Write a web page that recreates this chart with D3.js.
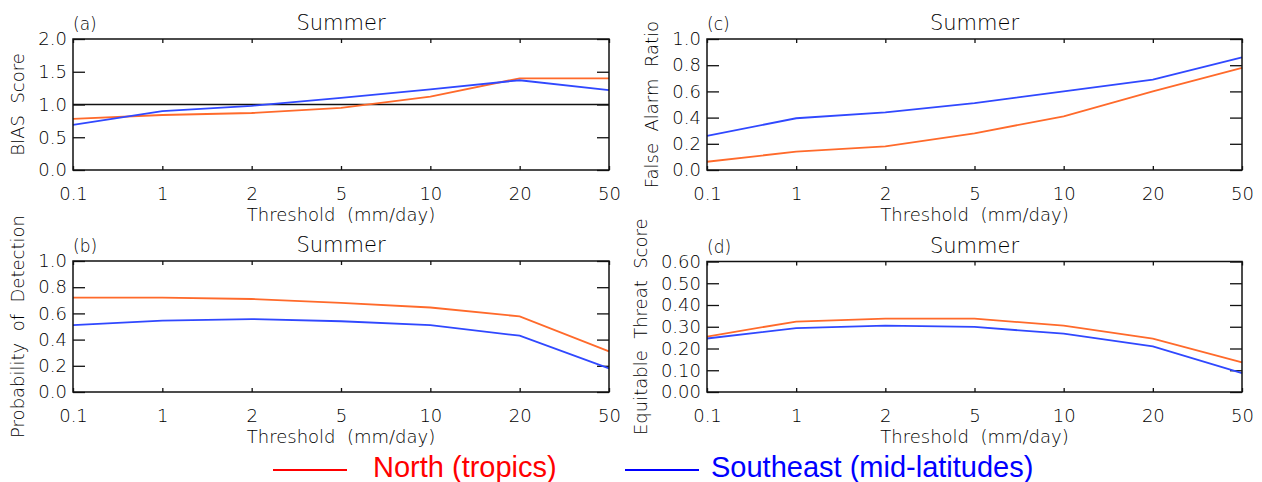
<!DOCTYPE html>
<html lang="en">
<head>
<meta charset="UTF-8">
<title>Summer scores</title>
<script src="https://d3js.org/d3.v7.min.js"></script>
<style>
  body { margin: 0; background: #fff; }
  text { font-family: "DejaVu Sans", sans-serif; font-weight: 200; fill: #000; white-space: pre; }
  .legend text { font-family: "Liberation Sans", Arial, sans-serif; font-weight: 400; }
</style>
</head>
<body>
<svg id="chart" width="1262" height="482"></svg>
<script>

// thresholds (mm/day), shown evenly spaced
const thresholds = ['0.1', '1', '2', '5', '10', '20', '50'];

// (a) BIAS score
const biasNorth     = [0.78, 0.84, 0.87, 0.95, 1.12, 1.40, 1.40];
const biasSoutheast = [0.69, 0.90, 0.98, 1.10, 1.23, 1.37, 1.22];
// (b) probability of detection
const podNorth      = [0.72, 0.72, 0.71, 0.68, 0.645, 0.577, 0.31];
const podSoutheast  = [0.51, 0.545, 0.557, 0.54, 0.51, 0.43, 0.18];
// (c) false alarm ratio
const farNorth      = [0.063, 0.14, 0.18, 0.28, 0.41, 0.60, 0.78];
const farSoutheast  = [0.26, 0.395, 0.44, 0.51, 0.60, 0.69, 0.86];
// (d) equitable threat score
const etsNorth      = [0.255, 0.324, 0.337, 0.337, 0.305, 0.245, 0.136];
const etsSoutheast  = [0.246, 0.294, 0.305, 0.299, 0.268, 0.21, 0.087];

const biasTicks = [0, 0.5, 1.0, 1.5, 2.0];
const unitTicks = [0, 0.2, 0.4, 0.6, 0.8, 1.0];
const etsTicks  = [0, 0.1, 0.2, 0.3, 0.4, 0.5, 0.6];

const northColor = '#ff6a2b';
const southColor = '#3048ff';

const panels = [
  { tag: '(a)', yTitle: 'BIAS  Score', north: biasNorth, south: biasSoutheast,
    ymax: 2, ticks: biasTicks, fmt: '.1f', ref: 1.0,
    left: 73, right: 609, top: 39, bottom: 170, titleOff: 55 },
  { tag: '(b)', yTitle: 'Probability  of  Detection', north: podNorth, south: podSoutheast,
    ymax: 1, ticks: unitTicks, fmt: '.1f',
    left: 73, right: 609, top: 261, bottom: 392, titleOff: 55 },
  { tag: '(c)', yTitle: 'False  Alarm  Ratio', north: farNorth, south: farSoutheast,
    ymax: 1, ticks: unitTicks, fmt: '.1f',
    left: 707, right: 1242, top: 39, bottom: 170, titleOff: 55 },
  { tag: '(d)', yTitle: 'Equitable  Threat  Score', north: etsNorth, south: etsSoutheast,
    ymax: 0.6, ticks: etsTicks, fmt: '.2f',
    left: 707, right: 1242, top: 261.5, bottom: 392, titleOff: 66 }
];

const svg = d3.select('#chart');

panels.forEach(p => {
  const w = p.right - p.left, h = p.bottom - p.top;
  const x = d3.scalePoint().domain(thresholds).range([0, w]);
  const y = d3.scaleLinear().domain([0, p.ymax]).range([h, 0]);
  const g = svg.append('g').attr('transform', `translate(${p.left},${p.top})`);

  g.append('g').attr('transform', `translate(0,${h})`)
    .call(d3.axisBottom(x).tickSize(-4).tickPadding(17))
    .call(a => a.select('.domain').remove())
    .call(a => a.selectAll('text').style('font-size', '18px').attr('fill', '#000'));
  g.append('g')
    .call(d3.axisTop(x).tickSize(-4).tickFormat(''))
    .call(a => a.select('.domain').remove());
  g.append('g')
    .call(d3.axisLeft(y).tickValues(p.ticks).tickSize(-12).tickPadding(6).tickFormat(d3.format(p.fmt)))
    .call(a => a.select('.domain').remove())
    .call(a => a.selectAll('text').style('font-size', '18px').attr('fill', '#000'));
  g.append('g').attr('transform', `translate(${w},0)`)
    .call(d3.axisRight(y).tickValues(p.ticks).tickSize(-12).tickFormat(''))
    .call(a => a.select('.domain').remove());
  g.selectAll('.tick line').attr('stroke', '#111').attr('stroke-width', 1.3);

  if (p.ref !== undefined) {
    g.append('line').attr('x1', 0).attr('x2', w)
      .attr('y1', y(p.ref)).attr('y2', y(p.ref))
      .attr('stroke', '#111').attr('stroke-width', 1.3);
  }

  const line = d3.line().x((d, i) => x(thresholds[i])).y(d => y(d));
  g.append('path').datum(p.north).attr('d', line)
    .attr('fill', 'none').attr('stroke', northColor).attr('stroke-width', 1.8);
  g.append('path').datum(p.south).attr('d', line)
    .attr('fill', 'none').attr('stroke', southColor).attr('stroke-width', 1.8);

  g.append('rect').attr('width', w).attr('height', h)
    .attr('fill', 'none').attr('stroke', '#111').attr('stroke-width', 1.5);

  g.append('text').attr('x', 0).attr('y', -9).style('font-size', '17px').text(p.tag);
  g.append('text').attr('x', w / 2).attr('y', -9).attr('text-anchor', 'middle')
    .style('font-size', '21px').text('Summer');
  g.append('text').attr('x', w / 2).attr('y', h + 51).attr('text-anchor', 'middle')
    .style('font-size', '18px').text('Threshold  (mm/day)');
  g.append('text')
    .attr('transform', `translate(${-p.titleOff},${h / 2}) rotate(-90)`)
    .attr('text-anchor', 'middle').attr('dy', '0.35em')
    .style('font-size', '18px').text(p.yTitle);
});

// legend
const legendItems = [
  { label: 'North (tropics)', color: '#ff0000', x1: 273, x2: 347, tx: 373 },
  { label: 'Southeast (mid-latitudes)', color: '#0000ff', x1: 625, x2: 699, tx: 711 }
];
const lg = svg.append('g').attr('class', 'legend');
legendItems.forEach(d => {
  lg.append('line').attr('x1', d.x1).attr('x2', d.x2).attr('y1', 470).attr('y2', 470)
    .attr('stroke', d.color).attr('stroke-width', 1.8);
  lg.append('text').attr('x', d.tx).attr('y', 477).style('font-size', '29px')
    .style('fill', d.color).text(d.label);
});

</script>
</body>
</html>
